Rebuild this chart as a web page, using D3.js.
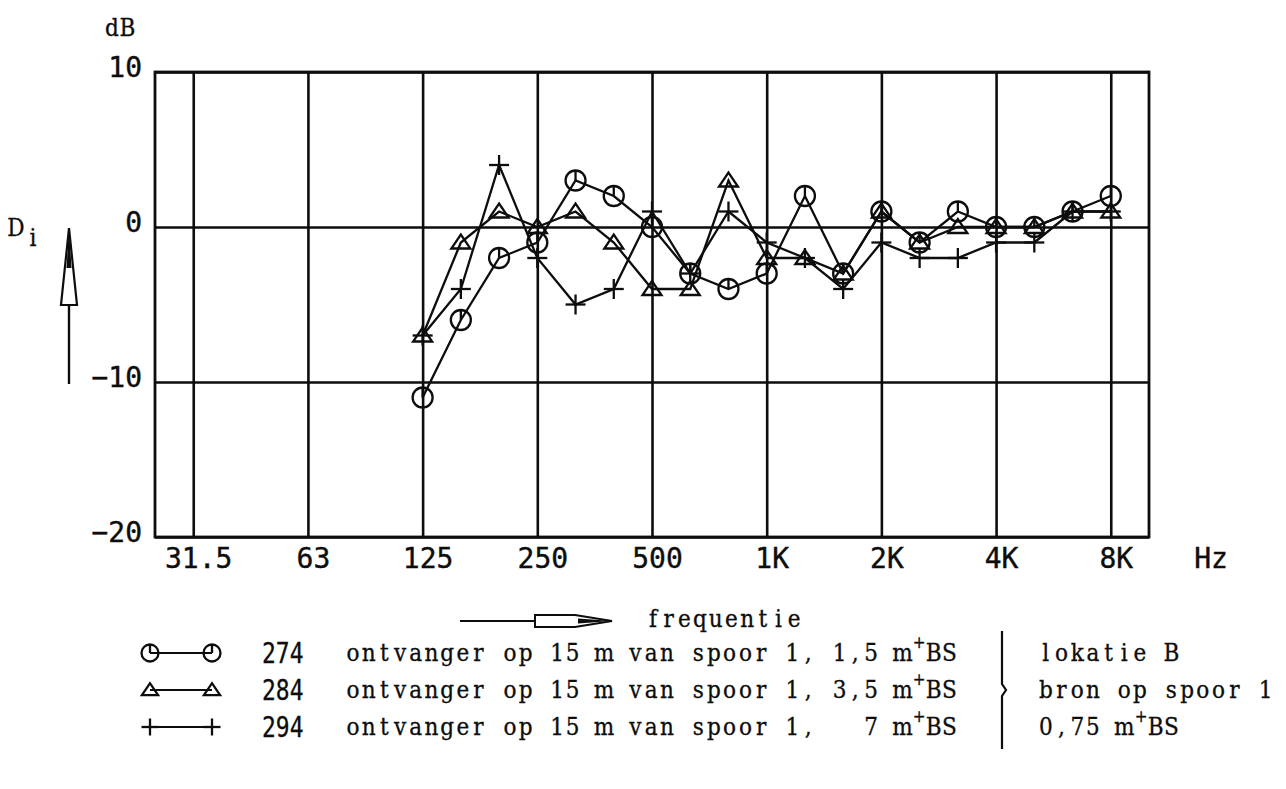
<!DOCTYPE html>
<html><head><meta charset="utf-8">
<script src="https://cdn.jsdelivr.net/npm/d3@7/dist/d3.min.js"></script>
<style>body{margin:0;background:#fff}svg{display:block}</style>
</head><body>
<svg id="chart" width="1286" height="789"></svg>
<script>
// third-octave band axis (25 Hz .. 10 kHz)
const bands = ["25","31.5","40","50","63","80","100","125","160","200","250","315","400","500","630","800","1K","1.25K","1.6K","2K","2.5K","3.15K","4K","5K","6.3K","8K","10K"];
const octaveLabels = ["31.5","63","125","250","500","1K","2K","4K","8K"];
const measuredBands = ["125","160","200","250","315","400","500","630","800","1K","1.25K","1.6K","2K","2.5K","3.15K","4K","5K","6.3K","8K"];
const yTicks = [10, 0, -10, -20];
// D_i values in dB
const s274 = [-11, -6, -2, -1, 3, 2, 0, -3, -4, -3, 2, -3, 1, -1, 1, 0, 0, 1, 2];
const s284 = [-7, -1, 1, 0, 1, -1, -4, -4, 3, -2, -2, -3, 1, -1, 0, 0, 0, 1, 1];
const s294 = [-7, -4, 4, -2, -5, -4, 1, -3, 1, -1, -2, -4, -1, -2, -2, -1, -1, 1, 1];
const seriesNames = ["274", "284", "294"];
const seriesMarkers = ["circle", "triangle", "plus"];
const seriesText = ["ontvanger op 15 m van spoor 1, 1,5 m", "ontvanger op 15 m van spoor 1, 3,5 m", "ontvanger op 15 m van spoor 1,   7 m"];
const noteText = ["lokatie B", "bron op spoor 1", "0,75 m"];

const svg = d3.select("#chart");
const X0 = 155, X1 = 1149, Y0 = 72, Y1 = 537;
const x = d3.scalePoint().domain(bands).range([X0, X1]);
const y = d3.scaleLinear().domain([-20, 10]).range([Y1, Y0]);

const plotFont = "'DejaVu Sans Mono', monospace";
const typeFont = "'DejaVu Serif Condensed', 'DejaVu Serif', serif";
const ink = "#0d0d0d";
const PITCH = 15.7;

// x grid + labels
const gx = svg.append("g").attr("transform", `translate(0,${Y1})`)
  .call(d3.axisBottom(x).tickValues(octaveLabels).tickSize(-(Y1 - Y0)).tickPadding(11));
gx.select(".domain").remove();
gx.selectAll(".tick line").attr("stroke", ink).attr("stroke-width", 2.6);
gx.selectAll(".tick text").attr("font-family", plotFont).attr("font-size", 28).attr("fill", ink)
  .attr("stroke", ink).attr("stroke-width", 0.4).attr("dx", 5);

// y grid + labels
const gy = svg.append("g").attr("transform", `translate(${X0},0)`)
  .call(d3.axisLeft(y).tickValues(yTicks).tickSize(-(X1 - X0)).tickPadding(13));
gy.select(".domain").remove();
gy.selectAll(".tick line").attr("stroke", ink).attr("stroke-width", 2.6);
gy.selectAll(".tick text").attr("font-family", plotFont).attr("font-size", 28).attr("fill", ink)
  .attr("stroke", ink).attr("stroke-width", 0.4).attr("dy", "0.15em");

// frame
svg.append("rect").attr("x", X0).attr("y", Y0).attr("width", X1 - X0).attr("height", Y1 - Y0)
  .attr("fill", "none").attr("stroke", ink).attr("stroke-width", 2.8);

svg.append("text").attr("x", 1211).attr("y", 568).attr("text-anchor", "middle")
  .attr("font-family", plotFont).attr("font-size", 28).attr("fill", ink)
  .attr("stroke", ink).attr("stroke-width", 0.4).text("Hz");

// typewriter text on a fixed pitch
function typeText(sel, parts, x0, yb, fs) {
  fs = fs || 24;
  const t = sel.append("text").attr("y", yb).attr("font-family", typeFont).attr("font-size", fs)
    .attr("fill", ink).attr("stroke", ink).attr("stroke-width", 0.3).attr("text-anchor", "middle")
    .attr("xml:space", "preserve").style("white-space", "pre");
  let col = 0;
  parts.forEach(p => {
    const chars = Array.from(p.t);
    if (p.sup) {
      t.append("tspan").attr("x", x0 + col * PITCH + PITCH / 2 + 1).attr("y", yb - 13).attr("font-size", 17).text(p.t);
    } else {
      t.append("tspan").attr("x", chars.map((c, i) => (x0 + (col + i) * PITCH + PITCH / 2).toFixed(1)).join(" "))
        .attr("y", yb).text(p.t);
    }
    col += chars.length;
  });
  return t;
}

// y axis title
typeText(svg, [{t: "dB"}], 104, 36);
const di = svg.append("g");
typeText(di, [{t: "D"}], 8, 236);
typeText(di, [{t: "i"}], 25, 246);

// vertical arrow
svg.append("line").attr("x1", 69).attr("x2", 69).attr("y1", 384).attr("y2", 305).attr("stroke", ink).attr("stroke-width", 2.4);
svg.append("path").attr("d", "M61,305 L77,305 L69,228 Z").attr("fill", "#fff").attr("stroke", ink).attr("stroke-width", 2.2);
svg.append("path").attr("d", "M66.5,268 L71.5,268 L69,228 Z").attr("fill", ink);

// markers
function drawMarker(g, type, cx, cy, s) {
  s = s || 1;
  const sw = 2.3;
  if (type === "circle") {
    g.append("circle").attr("cx", cx).attr("cy", cy).attr("r", 10 * s).attr("fill", "none").attr("stroke", ink).attr("stroke-width", sw);
    g.append("line").attr("x1", cx).attr("x2", cx).attr("y1", cy - 10 * s).attr("y2", cy).attr("stroke", ink).attr("stroke-width", sw);
  } else if (type === "triangle") {
    g.append("path").attr("d", `M${cx - 9.5 * s},${cy + 6 * s} L${cx + 9.5 * s},${cy + 6 * s} L${cx},${cy - 8 * s} Z`)
      .attr("fill", "none").attr("stroke", ink).attr("stroke-width", sw);
  } else {
    g.append("line").attr("x1", cx - 10 * s).attr("x2", cx + 10 * s).attr("y1", cy).attr("y2", cy).attr("stroke", ink).attr("stroke-width", sw);
    g.append("line").attr("x1", cx).attr("x2", cx).attr("y1", cy - 10 * s).attr("y2", cy + 10 * s).attr("stroke", ink).attr("stroke-width", sw);
  }
}

const allSeries = [s274, s284, s294];
const line = d3.line().x(d => x(d[0])).y(d => y(d[1]));
allSeries.forEach((vals, i) => {
  const pts = measuredBands.map((b, j) => [b, vals[j]]);
  const g = svg.append("g");
  g.append("path").attr("d", line(pts)).attr("fill", "none").attr("stroke", ink).attr("stroke-width", 2.3);
  pts.forEach(p => drawMarker(g, seriesMarkers[i], x(p[0]), y(p[1])));
});

// frequency arrow
const fy = 621;
svg.append("line").attr("x1", 460).attr("x2", 612).attr("y1", fy).attr("y2", fy).attr("stroke", ink).attr("stroke-width", 2);
svg.append("path").attr("d", `M535,${fy - 6} L575,${fy - 6} L612,${fy} L575,${fy + 6} L535,${fy + 6} Z`)
  .attr("fill", "#fff").attr("stroke", ink).attr("stroke-width", 2);
svg.append("path").attr("d", `M578,${fy - 2.5} L612,${fy} L578,${fy + 2.5} Z`).attr("fill", ink);
typeText(svg, [{t: "frequentie"}], 645, fy + 6);

// legend
const rowY = [653, 690, 727];
seriesNames.forEach((nm, i) => {
  const cy = rowY[i];
  const g = svg.append("g");
  g.append("line").attr("x1", 150).attr("x2", 212).attr("y1", cy).attr("y2", cy).attr("stroke", ink).attr("stroke-width", 2.2);
  drawMarker(g, seriesMarkers[i], 150, cy, 0.85);
  drawMarker(g, seriesMarkers[i], 212, cy, 0.85);
  g.append("text").attr("x", 0).attr("y", 0).attr("transform", `translate(262,${cy + 10}) scale(0.82,1)`)
    .attr("font-family", plotFont).attr("font-size", 28).attr("fill", ink)
    .attr("stroke", ink).attr("stroke-width", 0.3).text(nm);
  typeText(g, [{t: seriesText[i]}, {t: "+", sup: true}, {t: "BS"}], 345, cy + 8);
  const np = [{t: noteText[i]}];
  if (i === 2) { np.push({t: "+", sup: true}); np.push({t: "BS"}); }
  typeText(g, np, 1038, cy + 8);
});
// bracket
svg.append("path").attr("d", `M1002,${rowY[0] - 22} L1002,${rowY[1] - 6} L1006,${rowY[1]} L1002,${rowY[1] + 6} L1002,${rowY[2] + 22}`)
  .attr("fill", "none").attr("stroke", ink).attr("stroke-width", 2.2);
</script>
</body></html>
